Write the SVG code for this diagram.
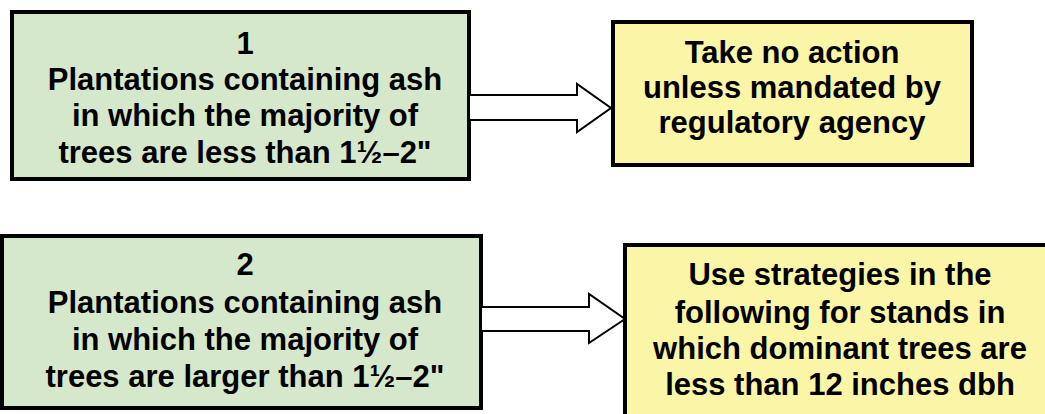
<svg xmlns="http://www.w3.org/2000/svg" width="1045" height="414" viewBox="0 0 1045 414">
<style>
.box{stroke:#000;stroke-width:4}
.g{fill:#d5e8cc}
.y{fill:#fbf5a8}
text{font-family:"Liberation Sans",Arial,sans-serif;font-weight:bold;font-size:31px;fill:#000;text-anchor:middle}
.arrow{fill:#fff;stroke:#000;stroke-width:2;stroke-linejoin:miter}
</style>
<rect width="1045" height="414" fill="#fff"/>
<g id="node1">
<rect class="box g" x="12" y="12" width="457" height="167"/>
<text x="245" y="54">1</text>
<text x="245" y="90">Plantations containing ash</text>
<text x="245" y="126">in which the majority of</text>
<text x="245" y="163">trees are less than 1½–2"</text>
</g>
<g id="node2">
<rect class="box y" x="613" y="22" width="359" height="143"/>
<text x="792" y="63">Take no action</text>
<text x="792" y="98">unless mandated by</text>
<text x="792" y="133">regulatory agency</text>
</g>
<g id="node3">
<rect class="box g" x="2" y="236" width="479" height="172"/>
<text x="245" y="275">2</text>
<text x="245" y="313">Plantations containing ash</text>
<text x="245" y="350">in which the majority of</text>
<text x="245" y="387">trees are larger than 1½–2"</text>
</g>
<g id="node4">
<rect class="box y" x="625" y="245" width="430" height="180"/>
<text x="840" y="285">Use strategies in the</text>
<text x="840" y="323">following for stands in</text>
<text x="840" y="359">which dominant trees are</text>
<text x="840" y="395">less than 12 inches dbh</text>
</g>
<g id="connectors">
<path class="arrow" d="M469,95 H577 V84 L611,108 L577,132 V120 H469 Z"/>
<path class="arrow" d="M481,307 H589 V294 L625,319 L589,343 V331 H481 Z"/>
</g>
</svg>
